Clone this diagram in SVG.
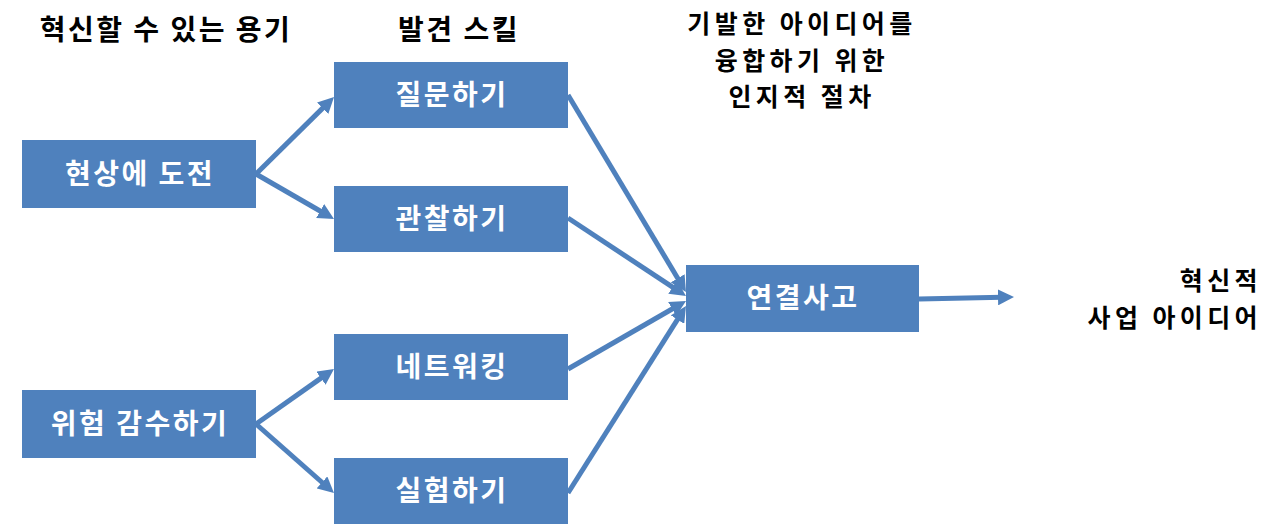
<svg xmlns="http://www.w3.org/2000/svg" width="1280" height="526" viewBox="0 0 1280 526">
<style>
.box{fill:#4F81BD;}
.bt{font-family:"Noto Sans CJK KR","Noto Sans",sans-serif;font-weight:bold;font-size:28px;letter-spacing:2.5px;fill:#FFFFFF;text-anchor:middle;}
.tt{font-family:"Noto Sans CJK KR","Noto Sans",sans-serif;font-weight:bold;font-size:28px;letter-spacing:2.5px;fill:#000000;text-anchor:middle;}
.ml{font-size:25px;letter-spacing:4.4px;}
.conn line{stroke:#4F81BD;stroke-width:5;marker-end:url(#ah);}
</style>
<defs>
<marker id="ah" markerUnits="userSpaceOnUse" markerWidth="16" markerHeight="16" refX="4" refY="8" orient="auto" viewBox="0 0 16 16">
<path d="M0,0 L16,8 L0,16 z" fill="#4F81BD"/>
</marker>
</defs>
<rect width="1280" height="526" fill="#FFFFFF"/>
<g id="titles">
<text class="tt" x="166" y="40">혁신할 수 있는 용기</text>
<text class="tt" x="459" y="40">발견 스킬</text>
<text class="tt ml" x="802" y="33">기발한 아이디어를</text>
<text class="tt ml" x="802" y="69.5">융합하기 위한</text>
<text class="tt ml" x="802" y="106">인지적 절차</text>
<text class="tt ml" x="1262" y="290" style="text-anchor:end">혁신적</text>
<text class="tt ml" x="1262" y="326.5" style="text-anchor:end">사업 아이디어</text>
</g>
<g class="conn" id="connectors">
<line x1="256" y1="174" x2="325.5" y2="105.4"/>
<line x1="256" y1="174" x2="323.6" y2="213"/>
<line x1="256" y1="424" x2="324.2" y2="375.9"/>
<line x1="256" y1="424" x2="325" y2="485"/>
<line x1="568" y1="95" x2="679.8" y2="281.7"/>
<line x1="568" y1="218" x2="676" y2="289.4"/>
<line x1="568" y1="369" x2="675.6" y2="307"/>
<line x1="568" y1="493" x2="679.6" y2="316.2"/>
<line x1="919" y1="299" x2="1002" y2="297.25"/>
</g>
<g id="n1"><rect class="box" x="22" y="140" width="234" height="68"/><text class="bt" x="140" y="184">현상에 도전</text></g>
<g id="n2"><rect class="box" x="22" y="390" width="234" height="68"/><text class="bt" x="140" y="434">위험 감수하기</text></g>
<g id="n3"><rect class="box" x="334" y="62" width="234" height="66"/><text class="bt" x="452" y="105">질문하기</text></g>
<g id="n4"><rect class="box" x="334" y="186" width="234" height="66"/><text class="bt" x="452" y="229">관찰하기</text></g>
<g id="n5"><rect class="box" x="334" y="334" width="234" height="66"/><text class="bt" x="452" y="377">네트워킹</text></g>
<g id="n6"><rect class="box" x="334" y="458" width="234" height="66"/><text class="bt" x="452" y="501">실험하기</text></g>
<g id="n7"><rect class="box" x="686" y="265" width="233" height="67"/><text class="bt" x="803" y="308">연결사고</text></g>
</svg>
